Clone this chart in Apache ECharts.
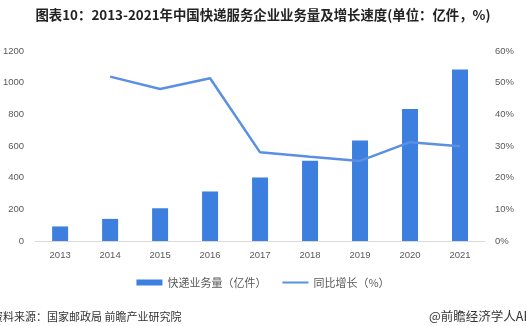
<!DOCTYPE html>
<html><head><meta charset="utf-8">
<script src="https://cdn.jsdelivr.net/npm/echarts@6/dist/echarts.min.js"></script>
<style>html,body{margin:0;padding:0;background:#fff}#c{width:526px;height:326px}</style>
</head><body><div id="c"></div>
<script>
const years = ['2013','2014','2015','2016','2017','2018','2019','2020','2021'];
const volume = [91.9,139.6,206.7,312.8,400.6,507.1,635.2,833.6,1083.0];
const growth = [null,51.9,48.0,51.4,28.0,26.6,25.3,31.2,29.9];
const leftTicks = [0,200,400,600,800,1000,1200];
const rightTicks = [0,10,20,30,40,50,60];
const ff = '"Noto Sans CJK SC","Microsoft YaHei",sans-serif';
const chart = echarts.init(document.getElementById('c'));
chart.setOption({
  animation:false,
  backgroundColor:'#fff',
  title:{text:'图表10：2013-2021年中国快递服务企业业务量及增长速度(单位：亿件，%)',left:'center',top:3,
    textStyle:{fontFamily:ff,fontSize:13.4,fontWeight:'bold',color:'#222'}},
  legend:{top:272,left:'center',itemGap:16,itemWidth:26,itemHeight:6,
    textStyle:{fontFamily:ff,fontSize:11,color:'#595959'},
    data:[{name:'快递业务量（亿件）',icon:'rect'},
          {name:'同比增长（%）',icon:'path://M0,0 L26,0 L26,2 L0,2 Z',itemStyle:{color:'#5b8fe2'}}]},
  grid:{left:31,right:41,top:51,bottom:85},
  xAxis:{type:'category',data:years,
    axisLine:{lineStyle:{color:'#d9d9d9'}},axisTick:{show:false},
    axisLabel:{color:'#595959',fontSize:9.5,fontFamily:'Liberation Sans, sans-serif',margin:9}},
  yAxis:[
    {type:'value',min:leftTicks[0],max:leftTicks[leftTicks.length-1],interval:200,
     splitLine:{show:false},axisLine:{show:false},axisTick:{show:false},
     axisLabel:{color:'#595959',fontSize:9.5,margin:11,formatter:v=>String(v),fontFamily:'Liberation Sans, sans-serif'}},
    {type:'value',min:rightTicks[0],max:rightTicks[rightTicks.length-1],interval:10,
     splitLine:{show:false},axisLine:{show:false},axisTick:{show:false},
     axisLabel:{color:'#595959',fontSize:9.5,margin:10,formatter:'{value}%',fontFamily:'Liberation Sans, sans-serif'}}
  ],
  series:[
    {name:'快递业务量（亿件）',type:'bar',data:volume,barWidth:16,itemStyle:{color:'#3c7fde'}},
    {name:'同比增长（%）',type:'line',yAxisIndex:1,data:growth,symbol:'none',
     lineStyle:{color:'#5b8fe2',width:2.5},itemStyle:{color:'#5b8fe2'}}
  ],
  graphic:[
    {type:'text',left:-8,top:311,style:{text:'资料来源：国家邮政局 前瞻产业研究院',fontFamily:ff,fontSize:11,fill:'#333'}},
    {type:'text',left:429,top:310,style:{text:'@前瞻经济学人APP',fontFamily:ff,fontSize:12.5,fill:'#333'}}
  ]
});
</script></body></html>
